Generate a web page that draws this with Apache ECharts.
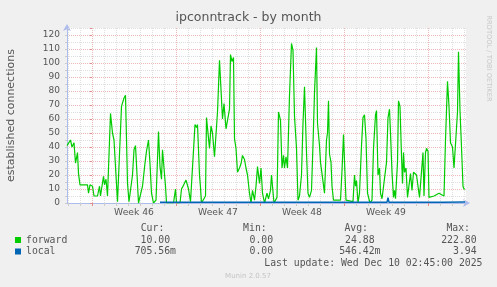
<!DOCTYPE html>
<html><head><meta charset="utf-8">
<script src="https://cdn.jsdelivr.net/npm/echarts@6/dist/echarts.min.js"></script>
<style>html,body{margin:0;padding:0;background:#F0F0F0}#c{width:497px;height:287px}</style>
</head><body><div id="c"></div>
<script>
// time unit: hours since start of Week 46
const weekLabels = ['Week 46', 'Week 47', 'Week 48', 'Week 49'];
const weekLabelHours = [84, 252, 420, 588];
const weekStartHours = [0, 168, 336, 504, 672];
const yLabelValues = [0, 10, 20, 30, 40, 50, 60, 70, 80, 90, 100, 110, 120];

const forwardHours = [-50,-46,-43,-40,-36,-33,-29,-27,-24,-16,-13,-9,-7,-4,1,4,11,15,17,23,25,28,31,34,37,41,44,47,51,54,59,64,67,71,74,78,81,84,87,89,93,96,101,106,109,113,116,119,123,128,133,136,139,141,144,147,149,163,167,169,176,179,183,188,193,197,201,206,209,211,215,217,219,223,227,229,232,235,238,241,245,248,251,255,258,261,264,268,271,275,277,280,283,285,288,291,295,298,301,305,308,311,315,318,321,325,328,331,335,338,341,345,347,350,353,357,359,361,364,367,370,373,377,380,383,385,388,391,395,399,402,405,409,412,415,419,422,425,429,432,435,439,442,445,449,451,455,457,460,463,465,469,471,473,475,478,480,483,497,500,503,505,508,522,525,527,529,532,535,539,542,545,548,551,553,556,560,563,567,569,572,575,577,580,584,589,592,595,597,600,603,605,607,611,613,616,619,621,623,625,628,631,634,637,640,643,646,649,652,655,659,662,664,667,669,672,674,684,694,697,704,707,711,714,717,721,724,727,731,733,736,739,742,744,746];
const forwardValues = [41,40,45,40,43,28.5,36,21,13,13,13.5,13,7,13,12,5,5,12,5,19,13,17,5,5,64,50,45,26,1,0,69,75,77,14,1,0,20,38,41,40,0,0,12,28.5,37,45,28,7,0,2,51,26,17,38,39,12,0,0,10,0,0,10,12.6,16.4,10,1,0,56,54,56,20,11,0,0,5,61,60,39,55,50,33,34,65,102,81,60,71,53,54,67,106,101,104,46,39,22,25,28,34,31,25,20,7,0,9,2,12,26,14,25,7,0,1,7,3,9,20,12,0,0,4,65,59,25,34,25,33,25,77,114,109,62,39,2,5,20,57,83,36,7,4,9,42,79,111,57,41,29,21,21,7,45,50,73,35,29,12,2,2,23,49,50,2,1,20,12,16,0,7,41,61,63,46,7,8,0,2,39,63,66,20,25,7,3,2,29,61,67,50,22,4,9,3,29,73,69,34,14,36,22,25,4,4,21,9,22,22,20,12,4,4,36,5,36,39,37,4,5,7,6,5,45,87,69,43,40,25,24,65,108,66,40,12,10,10];

const localHours = [136, 300, 450, 590, 592, 594, 700, 746];
const localValues = [0.5, 0.55, 0.6, 0.5, 3.9, 0.5, 0.55, 0.7];

const statHeaders = ['Cur:', 'Min:', 'Avg:', 'Max:'];
const forwardStats = ['10.00 ', '0.00 ', '24.88 ', '222.80 '];
const localStats = ['705.56m', '0.00 ', '546.42m', '3.94 '];
const lastUpdate = 'Last update: Wed Dec 10 02:45:00 2025';

const dayHours = [];
for (let h = -48; h <= 744; h += 24) dayHours.push(h);

const minorGrid = '#DFDFDF';
const majorGrid = '#EEB9B9';

const gridLineData = dayHours.map(h => ({
  xAxis: h,
  lineStyle: { color: (h % 168 === 0) ? majorGrid : minorGrid, type: [1, 1], width: 1 }
}));

const mono = '"DejaVu Sans Mono", monospace';
const sans = '"DejaVu Sans", sans-serif';
const txt = '#555555';

const headerRight = [164.3, 266.7, 368, 470];
const colRight = [176, 279, 380.5, 482.5];

const graphics = [];
statHeaders.forEach((s, i) => graphics.push({type: 'text', x: headerRight[i], y: 228.5, silent: true,
  style: {text: s, align: 'right', verticalAlign: 'middle', fill: txt, font: '9.8px ' + mono}}));
forwardStats.forEach((s, i) => graphics.push({type: 'text', x: colRight[i], y: 240, silent: true,
  style: {text: s, align: 'right', verticalAlign: 'middle', fill: txt, font: '9.8px ' + mono}}));
localStats.forEach((s, i) => graphics.push({type: 'text', x: colRight[i], y: 251.5, silent: true,
  style: {text: s, align: 'right', verticalAlign: 'middle', fill: txt, font: '9.8px ' + mono}}));
graphics.push({type: 'text', x: 482.5, y: 263.2, silent: true,
  style: {text: lastUpdate, align: 'right', verticalAlign: 'middle', fill: txt, font: '9.8px ' + mono}});
graphics.push({type: 'text', x: 248, y: 276, silent: true,
  style: {text: 'Munin 2.0.57', align: 'center', verticalAlign: 'middle', fill: '#C4C4C4', font: '7px ' + sans}});
graphics.push({type: 'text', x: 488.3, y: 58.5, rotation: -Math.PI / 2, silent: true,
  style: {text: 'RRDTOOL / TOBI OETIKER', align: 'center', verticalAlign: 'middle', fill: '#C8C8C8', font: '6.7px ' + sans}});

const axisColor = '#AEBCEC';

const chart = echarts.init(document.getElementById('c'), null, {renderer: 'canvas'});
chart.setOption({
  animation: false,
  backgroundColor: '#F0F0F0',
  title: {
    text: 'ipconntrack - by month', left: 'center', top: 11, padding: 0,
    textStyle: {fontFamily: sans, fontSize: 12.5, fontWeight: 'normal', color: txt}
  },
  grid: {left: 67, right: 31, top: 28, bottom: 84, show: true, backgroundColor: '#FFFFFF', borderWidth: 0,
    containLabel: false, outerBoundsMode: 'none'},
  legend: {
    data: ['forward', 'local'], orient: 'vertical', left: 15, top: 234.25, padding: 0,
    itemWidth: 6, itemHeight: 6, itemGap: 0, icon: 'rect', selectedMode: false,
    textStyle: {fontFamily: mono, fontSize: 9.8, color: txt, lineHeight: 11.5}
  },
  xAxis: [{
    type: 'value', min: -50, max: 748, position: 'bottom',
    axisLine: {show: true, onZero: false, lineStyle: {color: axisColor, width: 1}, symbol: ['none', 'arrow'], symbolSize: [6, 7], symbolOffset: [0, 4]},
    axisTick: {show: true, customValues: dayHours, length: 3, lineStyle: {color: '#CCCCCC'}},
    axisLabel: {customValues: weekLabelHours, formatter: v => weekLabels[weekLabelHours.indexOf(v)] || '',
      fontFamily: sans, fontSize: 9.2, color: txt, margin: 5},
    splitLine: {show: false}
  }, {
    type: 'value', min: -50, max: 748, position: 'bottom',
    axisLine: {show: false},
    axisTick: {show: true, customValues: weekStartHours, length: 3, lineStyle: {color: '#E08C8C'}},
    axisLabel: {show: false},
    splitLine: {show: false}
  }],
  yAxis: [{
    type: 'value', min: 0, max: 125, interval: 5, position: 'left',
    name: 'established connections', nameLocation: 'middle', nameRotate: 90, nameGap: 50,
    nameTextStyle: {fontFamily: sans, fontSize: 11, color: txt},
    axisLine: {show: true, onZero: false, lineStyle: {color: axisColor, width: 1}, symbol: ['none', 'arrow'], symbolSize: [6, 7], symbolOffset: [0, 4]},
    axisTick: {show: true, length: 2, lineStyle: {color: '#CCCCCC'}},
    axisLabel: {formatter: v => yLabelValues.includes(v) ? String(v) : '', showMaxLabel: false,
      fontFamily: sans, fontSize: 9, color: txt, margin: 7},
    splitLine: {show: true, lineStyle: {color: minorGrid, type: [1, 1], width: 1}}
  }, {
    type: 'value', min: 0, max: 125, interval: 10, position: 'left',
    axisLine: {show: false},
    axisTick: {show: true, length: 2, lineStyle: {color: '#E08C8C'}},
    axisLabel: {show: false},
    splitLine: {show: true, showMaxLine: false, showMinLine: false, lineStyle: {color: majorGrid, type: [1, 1], width: 1}}
  }],
  series: [{
    name: 'grid', type: 'line', data: [], silent: true, z: 1,
    markLine: {silent: true, symbol: ['none', 'none'], label: {show: false}, z: 1, animation: false,
      emphasis: {disabled: true}, data: gridLineData}
  }, {
    name: 'forward', type: 'line', z: 3,
    data: forwardHours.map((h, i) => [h, forwardValues[i]]),
    showSymbol: false, symbol: 'none', clip: true,
    lineStyle: {color: '#00CC00', width: 1.2}, itemStyle: {color: '#00CC00'}
  }, {
    name: 'local', type: 'line', z: 4,
    data: localHours.map((h, i) => [h, localValues[i]]),
    showSymbol: false, symbol: 'none', clip: true,
    lineStyle: {color: '#0066B3', width: 1.5}, itemStyle: {color: '#0066B3'}
  }],
  graphic: graphics
});
</script>
</body></html>
